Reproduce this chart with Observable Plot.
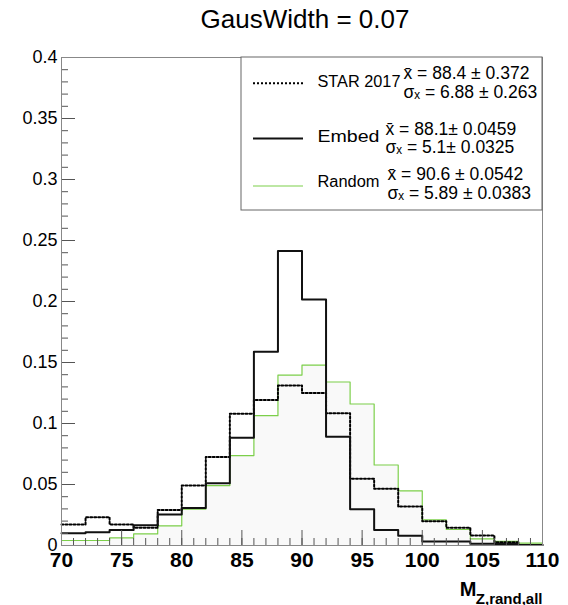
<!DOCTYPE html>
<html><head><meta charset="utf-8">
<script src="https://cdn.jsdelivr.net/npm/d3@7"></script>
<script src="https://cdn.jsdelivr.net/npm/@observablehq/plot@0.6"></script>
<style>
body{margin:0;background:#fff}
svg{font-family:"Liberation Sans",Arial,Helvetica,sans-serif}
</style>
</head><body><div id="chart"></div>
<script>
// ---- data ----
const binLow = [70,72,74,76,78,80,82,84,86,88,90,92,94,96,98,100,102,104,106,108];
const binWidth = 2;
const star   = [0.0172,0.0232,0.0172,0.0145,0.0292,0.0491,0.0726,0.108,0.1192,0.1312,0.125,0.1083,0.0548,0.0466,0.0319,0.0199,0.0145,0.0082,0.0027,0.0005];
const embed  = [0.0101,0.0109,0.0128,0.0166,0.0254,0.0308,0.051,0.0884,0.1588,0.2414,0.2016,0.0892,0.0297,0.0128,0.0079,0.0033,0.0033,0.0014,0.0012,0.0005];
const random = [0.0041,0.0041,0.0063,0.0095,0.0161,0.0297,0.0491,0.0737,0.1064,0.1397,0.1479,0.134,0.116,0.066,0.0447,0.021,0.0131,0.0055,0.0033,0.0019];
const xTicks = [70,75,80,85,90,95,100,105,110];
const yTicks = [0,0.05,0.1,0.15,0.2,0.25,0.3,0.35,0.4];
const title = "GausWidth = 0.07";
const xTitleMain = "M";
const xTitleSub = "Z,rand,all";
const legendLabels = ["STAR 2017","Embed","Random"];
const legendStats = [
  "x\u0304 = 88.4 \u00b1 0.372\n\u03c3\u2093 = 6.88 \u00b1 0.263",
  "x\u0304 = 88.1\u00b1 0.0459\n\u03c3\u2093 = 5.1\u00b1 0.0325",
  "x\u0304 = 90.6 \u00b1 0.0542\n\u03c3\u2093 = 5.89 \u00b1 0.0383"
];

// ---- layout ----
const W = 568, H = 605;
const mL = 61, mR = 26, mT = 57, mB = 60;
const fw = W - mL - mR, fh = H - mT - mB;
const xDomain = [70, 110], yDomain = [0, 0.4];
const xs = Plot.scale({x: {domain: xDomain, range: [mL, W - mR]}});
const ys = Plot.scale({y: {domain: yDomain, range: [H - mB, mT]}});

const steps = vals => binLow.map((x, i) => ({x, y: vals[i]}))
  .concat([{x: binLow[binLow.length - 1] + binWidth, y: vals[vals.length - 1]}]);

const minorX = d3.range(70, 111, 1);
const minorY = d3.range(0, 0.4001, 0.01);

const green = "#7ccf4a";
const styles = [
  {stroke: "#000", strokeWidth: 2, strokeDasharray: "2,2"},
  {stroke: "#111", strokeWidth: 2},
  {stroke: green, strokeWidth: 1.2}
];

// legend geometry (pixels)
const legSample = [82.7, 138, 185.5];
const legLabelY = [81, 136, 181];
const legLabelW = [83, 62, 62];
const legStatY = [82.3, 137.7, 183.3];
const legStatX = [403, 385, 387];

const chart = Plot.plot({
  width: W, height: H,
  marginLeft: mL, marginRight: mR, marginTop: mT, marginBottom: mB,
  x: {domain: xDomain, axis: null},
  y: {domain: yDomain, axis: null},
  marks: [
    Plot.areaY(steps(random), {x: "x", y: "y", curve: "step-after", fill: "#f9f9f9"}),
    Plot.line(steps(random), {x: "x", y: "y", curve: "step-after", ...styles[2]}),
    Plot.line(steps(star), {x: "x", y: "y", curve: "step-after", ...styles[0]}),
    Plot.line(steps(embed), {x: "x", y: "y", curve: "step-after", ...styles[1]}),
    // ticks (inside the frame)
    Plot.tickX(minorX, {x: d => d, stroke: "#555", insetTop: fh - 7}),
    Plot.tickX(xTicks, {x: d => d, stroke: "#555", insetTop: fh - 15}),
    Plot.tickY(minorY, {y: d => d, stroke: "#555", insetRight: fw - 7}),
    Plot.tickY(yTicks, {y: d => d, stroke: "#555", insetRight: fw - 14}),
    Plot.frame({stroke: "#888"}),
    // axes labels
    Plot.axisX(xTicks, {tickSize: 0, tickPadding: 7, fontSize: 21, fontWeight: "bold", fill: "#000", tickFormat: d => String(d), label: null}),
    Plot.axisY(yTicks, {tickSize: 0, tickPadding: 4, fontSize: 18, fill: "#000", tickFormat: d => String(+d.toFixed(2)), label: null}),
    Plot.text([xTitleMain], {frameAnchor: "bottom-right", textAnchor: "end", lineAnchor: "bottom", dx: -66, dy: 50, fontSize: 20, fontWeight: "bold", fill: "#000"}),
    Plot.text([xTitleSub], {frameAnchor: "bottom-right", textAnchor: "end", lineAnchor: "bottom", dx: 0, dy: 58, fontSize: 15, fontWeight: "bold", fill: "#000"}),
    // title
    Plot.text([title], {frameAnchor: "top", lineAnchor: "bottom", dx: 3, dy: -30, fontSize: 26, fill: "#000"}),
    // legend box
    Plot.rect([0], {x1: xs.invert(241), x2: xDomain[1], y1: ys.invert(210), y2: yDomain[1], fill: "white", stroke: "#666"}),
    ...legendLabels.map((lab, i) => Plot.ruleY([0], {y: ys.invert(legSample[i]), x1: xs.invert(253), x2: xs.invert(303), ...styles[i]})),
    ...legendLabels.map((lab, i) => Plot.text([lab], {className: "leglab" + i, frameAnchor: "top-left", textAnchor: "start", lineAnchor: "middle", dx: 317 - mL, dy: legLabelY[i] - mT, fontSize: 16, fill: "#000"})),
    ...legendStats.map((s, i) => Plot.text([s], {frameAnchor: "top-left", textAnchor: "start", lineAnchor: "middle", lineHeight: 1.06, dx: legStatX[i] - mL, dy: legStatY[i] - mT, fontSize: 17.5, fill: "#000"}))
  ]
});
// match the reference's legend label widths
legendLabels.forEach((lab, i) => {
  d3.select(chart).selectAll(".leglab" + i + " text")
    .attr("textLength", legLabelW[i]).attr("lengthAdjust", "spacingAndGlyphs");
});
document.getElementById("chart").appendChild(chart);
</script>
</body></html>
